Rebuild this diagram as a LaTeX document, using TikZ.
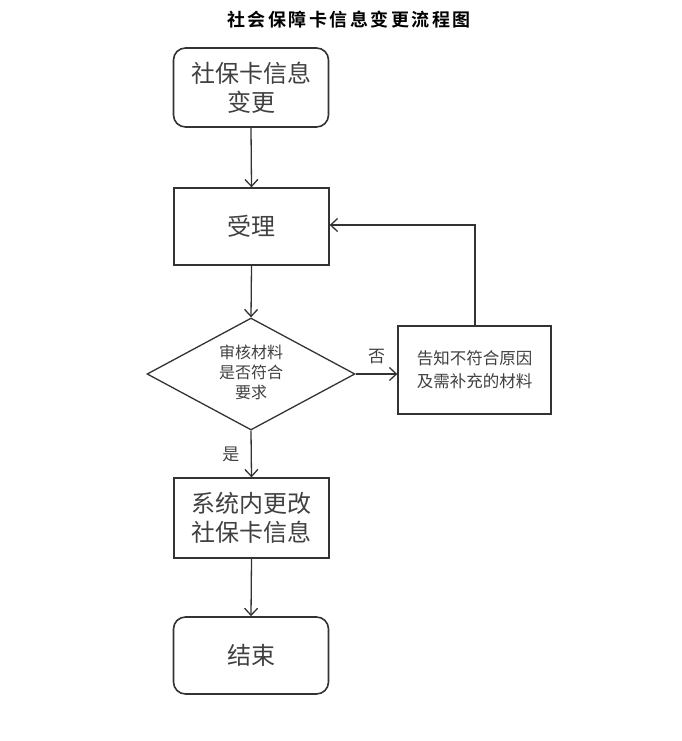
\documentclass[tikz,border=0pt]{standalone}
\usepackage{fontspec}
\newfontfamily\cjk{Noto Sans CJK SC}
\newfontfamily\cjkt[LetterSpace=14]{Noto Sans CJK SC Bold}
\usetikzlibrary{arrows.meta,shapes.geometric}
\definecolor{ln}{HTML}{333333}
\definecolor{tx}{HTML}{404040}
\tikzset{
  every node/.style={font=\cjk, text=tx},
  boxn/.style={draw=ln, line width=1.3pt, minimum width=155pt, minimum height=77pt, align=center, inner sep=0pt, font=\cjk\fontsize{24}{29}\selectfont},
  rbox/.style={boxn, line width=1.6pt, rounded corners=12pt},
  arr/.style={draw=ln, line width=1.3pt, -{Straight Barb[length=7pt,width=13pt]}},
}
\begin{document}
\begin{tikzpicture}[x=1pt,y=-1pt]
\useasboundingbox (0,0) rectangle (681,741);
\node[font=\cjkt\fontsize{18}{20}\selectfont, text=black] (title) at (349,20) {社会保障卡信息变更流程图};
\node[rbox, minimum height=79pt] (start) at (251,87.5) {社保卡信息\\变更};
\node[boxn] (accept) at (251.5,226.5) {受理};
\node[draw=ln, line width=1.3pt, diamond, aspect=1.857, minimum width=208pt, minimum height=112pt, inner sep=0pt] (check) at (251,374) {};
\node[align=center, font=\cjk\fontsize{16}{20}\selectfont] (checkt) at (251,372) {审核材料\\是否符合\\要求};
\node[draw=ln, line width=1.3pt, minimum width=153pt, minimum height=88pt, inner sep=0pt, align=center, font=\cjk\fontsize{16.5}{23}\selectfont] (notify) at (474.5,370) {告知不符合原因\\及需补充的材料};
\node[boxn, minimum height=80pt] (change) at (251.5,518) {系统内更改\\社保卡信息};
\node[rbox] (end) at (251,655.5) {结束};
\coordinate (corner) at (475,225);
\draw[arr] (start.south) -- (accept.north);
\draw[arr] (accept.south) -- (check.north);
\draw[arr] (check.east) -- (check.east -| notify.west) node[midway, above=6pt, font=\cjk\fontsize{17}{20}\selectfont] (no) {否};
\draw[arr] (notify.north -| corner) -- (corner) -- (accept.east |- corner);
\draw[arr] (check.south) -- (change.north) node[midway, left=8pt, font=\cjk\fontsize{17}{20}\selectfont] (yes) {是};
\draw[arr] (change.south) -- (end.north);
\end{tikzpicture}
\end{document}
